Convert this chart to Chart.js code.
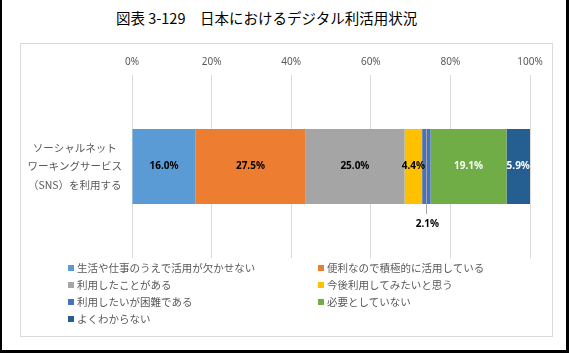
<!DOCTYPE html>
<html>
<head>
<meta charset="utf-8">
<script src="https://cdn.jsdelivr.net/npm/chart.js@4/dist/chart.umd.min.js"></script>
<style>
  body { margin: 0; background: #fff; }
  #page { position: relative; width: 569px; height: 353px; overflow: hidden;
    font-family: 'Noto Sans', 'Noto Sans CJK JP', sans-serif; }
  #frame { position: absolute; left: 0; top: 0; width: 569px; height: 353px; box-sizing: border-box;
    border-left: 2px solid #000; border-right: 3px solid #000; border-bottom: 3px solid #000; }
  #title { position: absolute; left: 116px; top: 7px; white-space: nowrap;
    font-size: 14.5px; color: #000; font-family: 'Noto Sans CJK JP', sans-serif; }
  #box { position: absolute; left: 20px; top: 43px; width: 533px; height: 294px;
    box-sizing: border-box; border: 1px solid #d9d9d9; }
  #grafico { position: absolute; left: 0; top: 0; }
  #legenda { position: absolute; left: 68px; top: 260px; width: 480px;
    font-family: 'Noto Sans CJK JP', sans-serif; font-size: 10.5px; color: #595959; }
  .item { position: absolute; white-space: nowrap; line-height: 16px; }
  .item span { display: inline-block; width: 6px; height: 6px; margin-right: 3px; vertical-align: 1px; }
</style>
</head>
<body>
<div id="page">
  <div id="frame"></div>
  <div id="title">図表 3-129　日本におけるデジタル利活用状況</div>
  <div id="box"></div>
  <canvas id="grafico" width="569" height="353"></canvas>
  <div id="legenda"></div>
</div>
<script>
// Dados do gráfico
const categories = [['ソーシャルネット', 'ワーキングサービス', '（SNS）を利用する']];
const seriesNames = [
  '生活や仕事のうえで活用が欠かせない',
  '便利なので積極的に活用している',
  '利用したことがある',
  '今後利用してみたいと思う',
  '利用したいが困難である',
  '必要としていない',
  'よくわからない'
];
const seriesValues = [16.0, 27.5, 25.0, 4.4, 2.1, 19.1, 5.9];
const tickLabels = ['0%', '20%', '40%', '60%', '80%', '100%'];

const cores = ['#5B9BD5', '#ED7D31', '#A5A5A5', '#FFC000', '#4472C4', '#70AD47', '#255E91'];
const coresRotulo = ['#000', '#000', '#000', '#000', '#000', '#fff', '#fff'];

// Rótulos de valor (2.1% fica fora da barra, com linha guia)
const rotulos = {
  id: 'rotulos',
  afterDatasetsDraw(chart) {
    const ctx = chart.ctx;
    ctx.save();
    ctx.font = 'bold 10px "Noto Sans", sans-serif';
    ctx.textAlign = 'center';
    ctx.textBaseline = 'middle';
    chart.data.datasets.forEach((ds, i) => {
      const el = chart.getDatasetMeta(i).data[0];
      const texto = ds.data[0].toFixed(1) + '%';
      const x = (el.x + el.base) / 2;
      if (ds.data[0] < 3) {
        const baixo = el.y + el.height / 2;
        ctx.strokeStyle = '#a6a6a6';
        ctx.lineWidth = 1;
        ctx.beginPath();
        ctx.moveTo(Math.round(x) + 0.5, el.y - el.height / 2);
        ctx.lineTo(Math.round(x) + 0.5, baixo + 10);
        ctx.stroke();
        ctx.fillStyle = '#000';
        ctx.fillText(texto, x + 1, baixo + 20);
      } else {
        ctx.fillStyle = coresRotulo[i];
        ctx.fillText(texto, x, el.y);
      }
    });
    ctx.restore();
  }
};

const ctx = document.getElementById('grafico').getContext('2d');
new Chart(ctx, {
  type: 'bar',
  data: {
    labels: categories,
    datasets: seriesNames.map((nome, i) => ({
      label: nome,
      data: [seriesValues[i]],
      backgroundColor: cores[i],
      borderWidth: 0,
      categoryPercentage: 1,
      barPercentage: 0.41
    }))
  },
  options: {
    indexAxis: 'y',
    responsive: false,
    animation: false,
    layout: { padding: { left: 0, right: 39, top: 0, bottom: 95 } },
    plugins: {
      legend: { display: false },
      tooltip: { enabled: false }
    },
    scales: {
      x: {
        position: 'top',
        stacked: true,
        min: 0,
        max: 100,
        afterFit: scale => { scale.height = 75; },
        grid: { color: '#d9d9d9', drawTicks: false },
        border: { display: false },
        ticks: {
          stepSize: 20,
          padding: 7,
          color: '#595959',
          font: { family: '"Noto Sans", sans-serif', size: 10 },
          callback: (v, i) => tickLabels[i]
        }
      },
      y: {
        stacked: true,
        afterFit: scale => { scale.width = 132; },
        grid: { display: false },
        border: { display: false },
        ticks: {
          crossAlign: 'center',
          padding: 2,
          color: '#595959',
          font: { family: '"Noto Sans CJK JP", sans-serif', size: 10.5, lineHeight: 1.75 }
        }
      }
    }
  },
  plugins: [rotulos]
});

// Legenda em duas colunas
const legenda = document.getElementById('legenda');
seriesNames.forEach((nome, i) => {
  const item = document.createElement('div');
  item.className = 'item';
  item.style.left = (i % 2) * 250 + 'px';
  item.style.top = Math.floor(i / 2) * 17 + 'px';
  item.innerHTML = `<span style="background:${cores[i]}"></span>${nome}`;
  legenda.appendChild(item);
});
</script>
</body>
</html>
